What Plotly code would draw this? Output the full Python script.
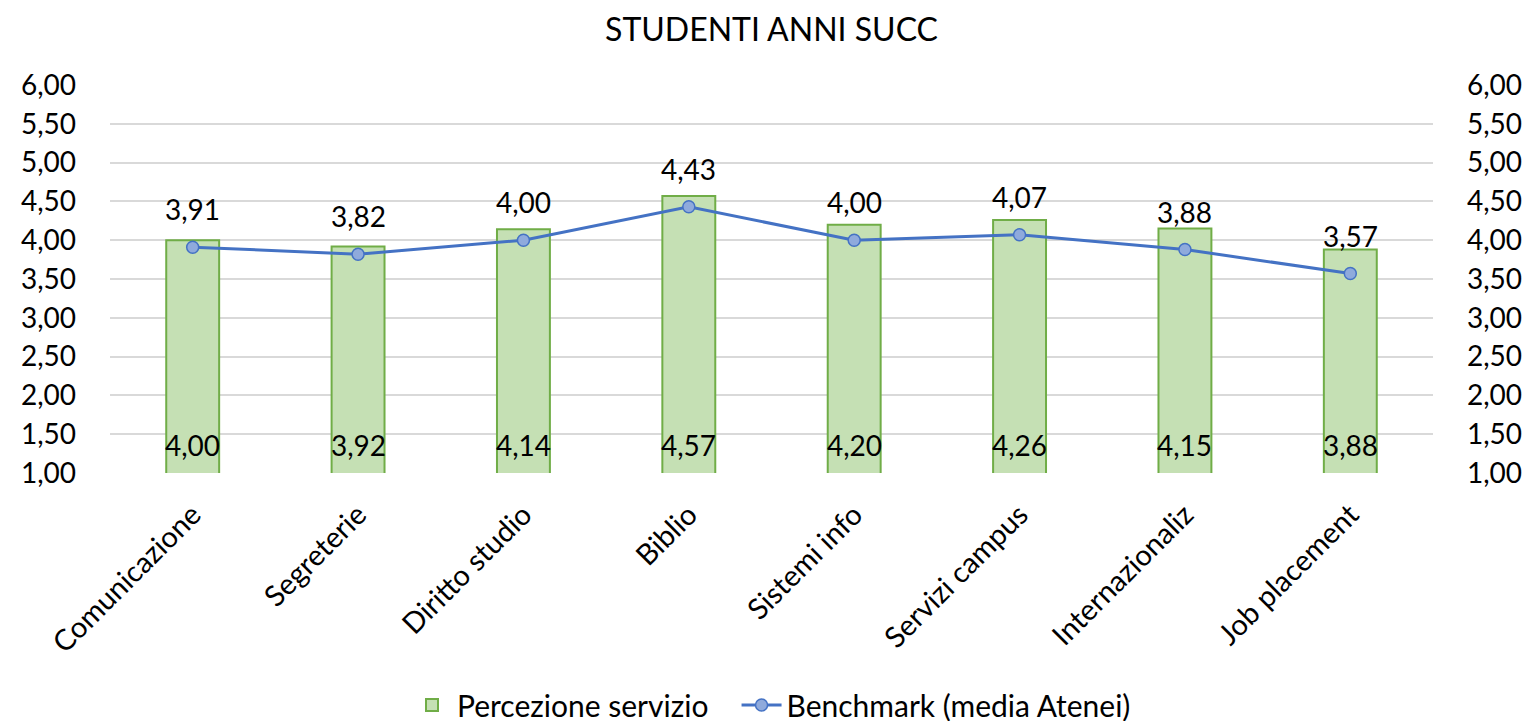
import plotly.graph_objects as go

categories = ["Comunicazione", "Segreterie", "Diritto studio", "Biblio",
              "Sistemi info", "Servizi campus", "Internazionaliz", "Job placement"]
percezione = [4.00, 3.92, 4.14, 4.57, 4.20, 4.26, 4.15, 3.88]
benchmark = [3.91, 3.82, 4.00, 4.43, 4.00, 4.07, 3.88, 3.57]
tick_vals = [1.0, 1.5, 2.0, 2.5, 3.0, 3.5, 4.0, 4.5, 5.0, 5.5, 6.0]
series_names = ["Percezione servizio", "Benchmark (media Atenei)"]

FONT = "Lato, Carlito, Calibri, sans-serif"
PAD = "\u00a0" * 3

def fmt(v):
    return f"{v:.2f}".replace(".", ",")

fig = go.Figure()
fig.add_trace(go.Bar(
    x=categories, y=percezione, name=series_names[0] + PAD,
    marker=dict(color="#C5E0B4", line=dict(color="#70AD47", width=2)),
    width=0.32,
))
fig.add_trace(go.Scatter(
    x=categories, y=benchmark, name=series_names[1],
    mode="lines+markers",
    line=dict(color="#4472C4", width=3),
    marker=dict(size=12, color="#8FAADC", line=dict(color="#4472C4", width=1.5)),
))
# invisible trace for right axis
fig.add_trace(go.Scatter(x=categories, y=benchmark, yaxis="y2", mode="none",
                         showlegend=False, hoverinfo="skip"))

annotations = []
for c, v in zip(categories, percezione):
    annotations.append(dict(x=c, y=1.0, text=fmt(v), showarrow=False,
                            yanchor="middle", yshift=28,
                            font=dict(family=FONT, size=28, color="black")))
for c, v in zip(categories, benchmark):
    annotations.append(dict(x=c, y=v, text=fmt(v), showarrow=False,
                            yanchor="middle", yshift=38,
                            font=dict(family=FONT, size=28, color="black")))

yax = dict(range=[1, 6], tickvals=tick_vals, tickformat=".2f",
           showgrid=True, gridcolor="#D9D9D9", gridwidth=2,
           zeroline=False, showline=False, ticks="",
           ticklabelstandoff=33,
           tickfont=dict(family=FONT, size=28, color="black"))

fig.update_layout(
    width=1532, height=721,
    separators=",.",
    paper_bgcolor="white", plot_bgcolor="white",
    margin=dict(l=102, r=107, t=77, b=256, autoexpand=False),
    title=dict(text="STUDENTI ANNI SUCC", x=0.5, xanchor="center",
               xref="paper",
               y=1 - 22 / 721, yanchor="middle",
               font=dict(family=FONT, size=32, color="black")),
    xaxis=dict(tickangle=-45, tickfont=dict(family=FONT, size=29, color="black"),
               showline=False, ticks="", showgrid=False,
               ticklabelstandoff=18, automargin=False),
    yaxis=dict(**yax),
    yaxis2=dict(**yax, overlaying="y", side="right"),
    legend=dict(orientation="h", x=0.5, xanchor="center",
                y=-(697 - 77 - 388) / 388, yanchor="middle",
                font=dict(family=FONT, size=30, color="black"),
                itemwidth=40, tracegroupgap=0),
    annotations=annotations,
    showlegend=True,
    bargap=0.5,
)
fig.write_html("out.html")
